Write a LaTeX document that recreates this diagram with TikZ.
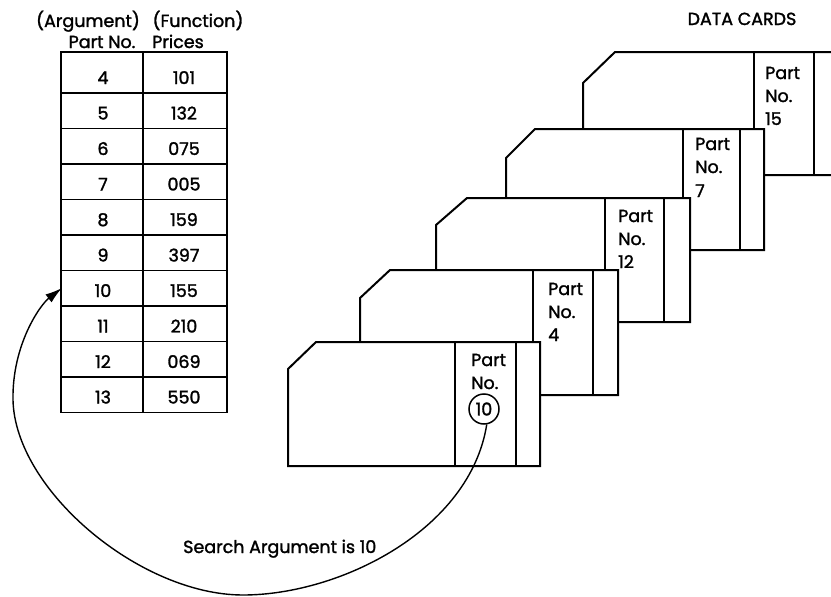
\documentclass[tikz,border=0pt]{standalone}
\usepackage{fontspec}
\setmainfont{Poppins}[FakeBold=1.6,AutoFakeBold=1.6]
\usetikzlibrary{arrows.meta}
\newcommand{\cardshape}[9]{%
  % #1 left, #2 top, #3 bottom, #4 part divider, #5 right divider, #6 right, #7 cut x, #8 cut y, #9 name
  \draw[cardline,fill=white] (#1+#7,#2) -- (#6,#2) -- (#6,#3) -- (#1,#3) -- (#1,#2+#8) -- cycle;
  \draw[cardline] (#4,#2) -- (#4,#3);
  \draw[cardline] (#5,#2) -- (#5,#3);
}
\begin{document}
\begin{tikzpicture}[x=1pt,y=-1pt,
  cardline/.style={line width=2pt, line join=miter},
  tbl/.style={line width=1.8pt},
  txt/.style={font=\fontsize{17.5}{20}\selectfont\bfseries, inner sep=0pt},
  lbl/.style={txt, anchor=base west},
  num/.style={txt, anchor=base},
  curve/.style={line width=1.4pt, -{Latex[length=17pt,width=10pt]}}]
\useasboundingbox (0,0) rectangle (831,597);
\clip (0,0) rectangle (831,597);
% headers
\node[num] (hArg) at (88,27) {(Argument)};
\node[num] (hFun) at (198,27) {(Function)};
\node[num] (hPart) at (102,48) {Part No.};
\node[num] (hPri) at (178,48) {Prices};
\node[num] (hData) at (742,25) {DATA CARDS};
% table
\draw[tbl] (61,52) rectangle (227,412.5);
\draw[tbl] (143,52) -- (143,412.5);
\foreach \k in {0,...,8} { \draw[tbl] (61,93+35.5*\k) -- (227,93+35.5*\k); }
\foreach \a/\f [count=\i from 0] in {4/101,5/132,6/075,7/005,8/159,9/397,10/155,11/210,12/069,13/550} {
  \node[num] (arg\a) at (103,84+35.5*\i) {\a};
  \node[num] (fun\a) at (184,84+35.5*\i) {\f};
}
\coordinate (tgt) at (62,288);
% cards, back to front
\cardshape{583}{52}{175}{754}{814}{850}{32}{31}{c5}
\node[lbl] (p5a) at (765,79) {Part};
\node[lbl] (p5b) at (765,102) {No.};
\node[lbl] (p5c) at (765,125) {15};
\cardshape{506}{129}{250}{683}{740}{764}{29}{29}{c4}
\node[lbl] (p4a) at (695,150) {Part};
\node[lbl] (p4b) at (695,173) {No.};
\node[lbl] (p4c) at (695,197) {7};
\cardshape{436}{198}{322}{605}{664}{690}{31}{27}{c3}
\node[lbl] (p3a) at (618,222) {Part};
\node[lbl] (p3b) at (618,245) {No.};
\node[lbl] (p3c) at (618,268) {12};
\cardshape{360}{270}{395}{533}{593}{618}{30}{28}{c2}
\node[lbl] (p2a) at (548,295) {Part};
\node[lbl] (p2b) at (548,318) {No.};
\node[lbl] (p2c) at (548,341) {4};
\cardshape{288}{342}{466}{455}{516}{540}{28}{27}{c1}
\node[lbl] (p1a) at (471,366) {Part};
\node[lbl] (p1b) at (471,389) {No.};
\node[txt, draw, circle, line width=1.5pt, minimum size=30pt] (c10) at (484,409) {10};
% search label
\node[lbl] (search) at (183,553) {Search Argument is 10};
% curve
\draw[curve] (c10.-80) .. controls (470,530) and (340,595) .. (243,595)
  .. controls (140,595) and (15,490) .. (13,400)
  .. controls (12,345) and (40,305) .. (tgt);
\end{tikzpicture}
\end{document}
